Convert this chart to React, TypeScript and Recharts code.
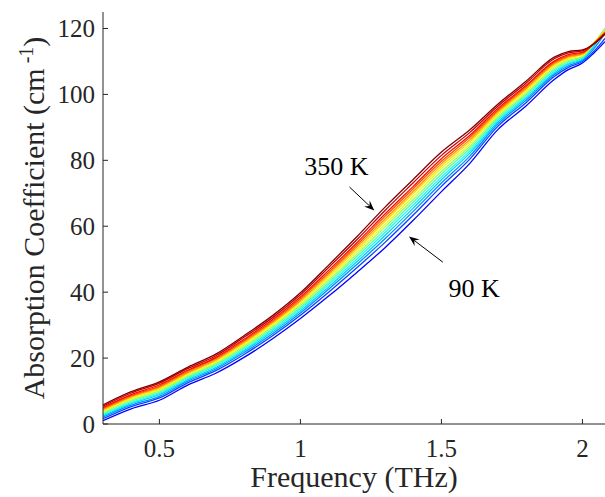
import React from 'react';
import {
  LineChart,
  Line,
  XAxis,
  YAxis,
  ReferenceLine,
  ReferenceDot
} from 'recharts';

// frequency grid (THz)
const frequencyTHz = [0.3, 0.4, 0.5, 0.6, 0.7, 0.8, 0.9, 1.0, 1.1, 1.2, 1.3, 1.4, 1.5, 1.6, 1.7, 1.8, 1.9, 1.95, 2.0, 2.04, 2.08];

const temperaturesK = [90, 110, 130, 150, 170, 190, 210, 230, 250, 270, 290, 310, 330, 350];

// absorption coefficient (cm^-1), one array per temperature
const absorption90K = [1.0, 4.6, 7.2, 11.8, 15.4, 20.2, 25.8, 32.0, 38.8, 46.0, 53.5, 61.8, 70.5, 79.0, 89.3, 96.5, 104.5, 107.5, 109.5, 112.5, 116.0];
const absorption110K = [1.6, 5.3, 7.9, 12.5, 16.2, 21.1, 26.7, 33.0, 40.0, 47.4, 55.1, 63.4, 72.1, 80.3, 90.3, 97.5, 105.4, 108.2, 110.0, 113.0, 117.0];
const absorption130K = [2.1, 5.7, 8.4, 13.0, 16.7, 21.7, 27.3, 33.7, 40.9, 48.4, 56.2, 64.5, 73.1, 81.2, 91.0, 98.2, 106.0, 108.7, 110.4, 113.8, 118.5];
const absorption150K = [2.4, 6.2, 8.9, 13.4, 17.1, 22.2, 27.9, 34.3, 41.6, 49.2, 57.2, 65.5, 74.1, 82.1, 91.6, 98.8, 106.5, 109.2, 110.7, 114.5, 119.5];
const absorption170K = [2.8, 6.5, 9.3, 13.8, 17.6, 22.6, 28.4, 34.9, 42.3, 50.0, 58.1, 66.4, 74.9, 82.8, 92.2, 99.3, 107.0, 109.5, 111.0, 115.0, 120.0];
const absorption190K = [3.1, 6.9, 9.7, 14.2, 18.0, 23.1, 28.9, 35.4, 42.9, 50.8, 58.9, 67.3, 75.8, 83.5, 92.7, 99.8, 107.5, 109.9, 111.3, 115.3, 120.0];
const absorption210K = [3.5, 7.3, 10.1, 14.6, 18.4, 23.6, 29.4, 36.0, 43.6, 51.5, 59.8, 68.1, 76.6, 84.2, 93.2, 100.3, 108.0, 110.3, 111.5, 115.5, 119.8];
const absorption230K = [3.8, 7.6, 10.5, 14.9, 18.8, 24.0, 29.9, 36.5, 44.3, 52.3, 60.6, 69.0, 77.5, 84.9, 93.8, 100.9, 108.4, 110.7, 111.8, 115.5, 119.5];
const absorption250K = [4.1, 8.0, 10.8, 15.3, 19.2, 24.5, 30.4, 37.1, 44.9, 53.0, 61.5, 69.9, 78.3, 85.6, 94.3, 101.4, 108.9, 111.1, 112.1, 115.5, 119.2];
const absorption270K = [4.4, 8.3, 11.2, 15.6, 19.5, 24.9, 30.8, 37.5, 45.5, 53.7, 62.2, 70.6, 79.0, 86.2, 94.8, 101.8, 109.3, 111.4, 112.3, 115.5, 119.0];
const absorption290K = [4.7, 8.6, 11.5, 16.0, 19.9, 25.3, 31.2, 38.0, 46.0, 54.3, 63.0, 71.4, 79.7, 86.9, 95.2, 102.3, 109.7, 111.7, 112.6, 115.4, 118.8];
const absorption310K = [5.0, 8.9, 11.9, 16.3, 20.2, 25.7, 31.6, 38.5, 46.6, 55.0, 63.7, 72.1, 80.5, 87.5, 95.7, 102.7, 110.1, 112.1, 112.8, 115.3, 118.6];
const absorption330K = [5.4, 9.4, 12.4, 16.8, 20.7, 26.3, 32.2, 39.2, 47.5, 55.9, 64.8, 73.2, 81.5, 88.4, 96.4, 103.4, 110.8, 112.6, 113.2, 115.3, 118.4];
const absorption350K = [5.8, 9.8, 12.8, 17.2, 21.2, 26.8, 32.8, 39.8, 48.2, 56.8, 65.8, 74.2, 82.5, 89.2, 97.0, 104.0, 111.3, 113.0, 113.5, 115.3, 118.3];

const xTicks = [0.5, 1, 1.5, 2];
const yTicks = [0, 20, 40, 60, 80, 100, 120];

// jet-like colours, cold -> hot
const lineColors = [
  '#0000ff', '#0045ff', '#008aff', '#00ceff', '#14ffeb', '#58ffa7', '#9dff62',
  '#e2ff1d', '#ffd800', '#ff9300', '#ff4e00', '#ff0a00', '#c40000', '#800000'
];

const seriesValues = [
  absorption90K, absorption110K, absorption130K, absorption150K, absorption170K,
  absorption190K, absorption210K, absorption230K, absorption250K, absorption270K,
  absorption290K, absorption310K, absorption330K, absorption350K
];

const chartData = frequencyTHz.map((f, i) => {
  const row: Record<string, number> = { f };
  temperaturesK.forEach((t, j) => {
    row[`t${t}`] = seriesValues[j][i];
  });
  return row;
});

const FONT = '"Times New Roman", Times, "Liberation Serif", Tinos, "DejaVu Serif", serif';
const AXIS = '#262626';

function Arrow(props: any) {
  const { x1, y1, x2, y2 } = props;
  const ang = Math.atan2(y2 - y1, x2 - x1);
  const len = 11;
  const w = 0.38;
  const p1 = `${x2 - len * Math.cos(ang - w)},${y2 - len * Math.sin(ang - w)}`;
  const p2 = `${x2 - len * Math.cos(ang + w)},${y2 - len * Math.sin(ang + w)}`;
  const bx = x2 - len * 0.6 * Math.cos(ang);
  const by = y2 - len * 0.6 * Math.sin(ang);
  return (
    <g>
      <line x1={x1} y1={y1} x2={bx} y2={by} stroke="#000" strokeWidth={1} />
      <polygon points={`${x2},${y2} ${p1} ${bx},${by} ${p2}`} fill="#000" />
    </g>
  );
}

const annotationText = (text: string) => (props: any) => (
  <text x={props.cx} y={props.cy} fontSize={26} fontFamily={FONT} fill="#000">
    {text}
  </text>
);

function YLabel(props: any) {
  const vb = props.viewBox || { x: 0, y: 12, height: 412 };
  const x = vb.x + 44;
  const y = vb.y + vb.height / 2;
  return (
    <text
      x={x}
      y={y}
      transform={`rotate(-90, ${x}, ${y})`}
      textAnchor="middle"
      fontSize={30}
      fontFamily={FONT}
      fill={AXIS}
    >
      <tspan>Absorption Coefficient (cm</tspan>
      <tspan fontSize={20} dy={-11}>{' -1'}</tspan>
      <tspan dy={11}>)</tspan>
    </text>
  );
}

export default function App() {
  return (
    <div style={{ position: 'absolute', left: 0, top: 0, width: 605, height: 497, background: '#fff', fontFamily: FONT }}>
      <LineChart
        width={605}
        height={497}
        data={chartData}
        margin={{ top: 12, right: 0, left: 0, bottom: 0 }}
      >
        <XAxis
          dataKey="f"
          type="number"
          domain={[0.3, 2.08]}
          allowDataOverflow
          ticks={xTicks}
          height={73}
          tickSize={-5}
          tickMargin={20}
          stroke={AXIS}
          tick={{ fontSize: 25, fill: AXIS, fontFamily: FONT }}
          label={{ value: 'Frequency (THz)', position: 'insideBottom', offset: 10, fontSize: 30, fill: AXIS, fontFamily: FONT }}
        />
        <XAxis
          xAxisId="top"
          orientation="top"
          dataKey="f"
          type="number"
          domain={[0.3, 2.08]}
          allowDataOverflow
          ticks={xTicks}
          height={0}
          tickSize={-5}
          stroke={AXIS}
          tick={false}
        />
        <YAxis
          type="number"
          domain={[0, 125]}
          allowDataOverflow
          ticks={yTicks}
          width={103}
          tickSize={-5}
          tickMargin={13}
          stroke={AXIS}
          tick={{ fontSize: 25, fill: AXIS, fontFamily: FONT }}
          label={<YLabel />}
        />
        {temperaturesK.map((t, j) => (
          <Line
            key={t}
            dataKey={`t${t}`}
            type="monotone"
            stroke={lineColors[j]}
            strokeWidth={1.3}
            dot={false}
            isAnimationActive={false}
          />
        ))}
        <ReferenceLine segment={[{ x: 1.174, y: 71.9 }, { x: 1.262, y: 64.8 }]} shape={Arrow} />
        <ReferenceLine segment={[{ x: 1.505, y: 49.1 }, { x: 1.385, y: 56.9 }]} shape={Arrow} />
        <ReferenceDot x={1.014} y={75.5} r={0} shape={annotationText('350 K')} />
        <ReferenceDot x={1.525} y={38.4} r={0} shape={annotationText('90 K')} />
      </LineChart>
    </div>
  );
}
